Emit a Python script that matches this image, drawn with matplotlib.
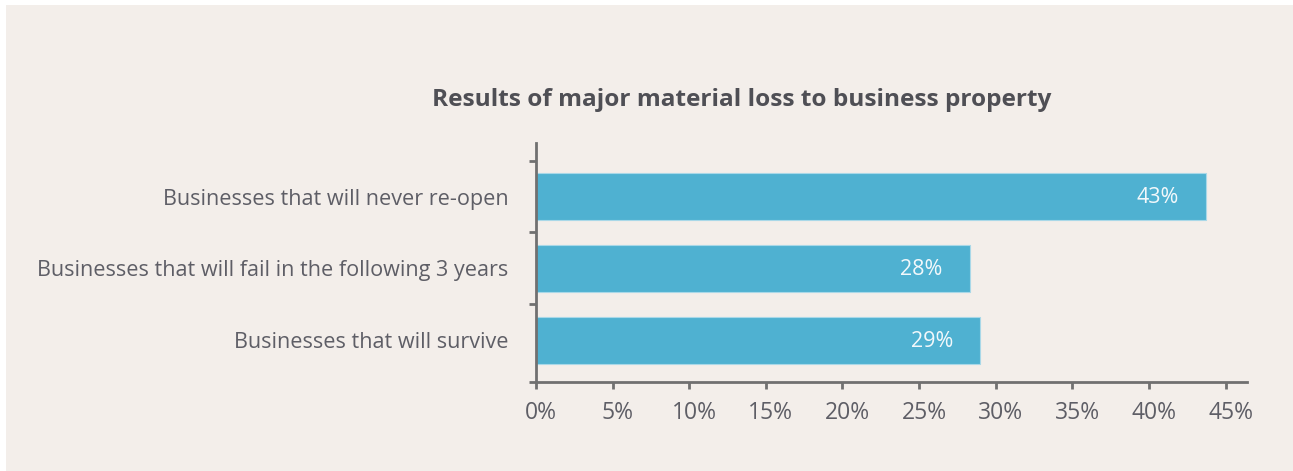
import matplotlib
matplotlib.use("Agg")
import matplotlib.pyplot as plt
from matplotlib.patches import Rectangle
from matplotlib.transforms import ScaledTranslation

categories = ["Businesses that will never re-open",
              "Businesses that will fail in the following 3 years",
              "Businesses that will survive"]
values = [43.7, 28.3, 29.0]
value_labels = ["43%", "28%", "29%"]
xticks = [0, 5, 10, 15, 20, 25, 30, 35, 40, 45]
xtick_labels = ["0%", "5%", "10%", "15%", "20%", "25%", "30%", "35%", "40%", "45%"]
title = "Results of major material loss to business property"

W, H = 1293, 471
BG = "#F3EEEA"
BAR = "#4FB1D1"
TXT = "#5E5E66"
AX = "#707070"

plt.rcParams['font.family'] = ['Open Sans', 'DejaVu Sans']

fig = plt.figure(figsize=(W / 100, H / 100), dpi=100, facecolor="white")
fig.patches.append(Rectangle((6 / W, 0), 1 - 6 / W, (H - 5) / H, transform=fig.transFigure,
                             facecolor=BG, edgecolor="none", zorder=-10))

ax = fig.add_axes([536 / W, (H - 382) / H, (1247 - 536) / W, (382 - 143) / H])
ax.set_facecolor("none")
ax.set_zorder(2)

ypos = list(range(len(categories)))
ax.barh(ypos, values, height=0.655, color=BAR, edgecolor="#A9D8E8", linewidth=0.8, zorder=2)

for y, v, lab in zip(ypos, values, value_labels):
    ax.text(v - 1.75, y + 0.02, lab, ha="right", va="center", color="#F2F8FB", fontsize=15.5, zorder=3)

ax.set_xlim(0, 46.4)
ax.set_ylim(2.585, -0.746)

ax.set_xticks(xticks)
ax.set_xticklabels(xtick_labels)
ax.set_yticks(ypos)
ax.set_yticklabels(categories)
ax.set_yticks([-0.5, 0.5, 1.5, 2.585], minor=True)

ax.tick_params(axis="y", which="major", length=0, pad=20, labelsize=15.6, labelcolor=TXT)
ax.tick_params(axis="y", which="minor", length=5, width=2, color=AX, direction="out")
ax.tick_params(axis="x", which="major", length=5, width=2, color=AX, direction="out",
               pad=9, labelsize=16.5, labelcolor=TXT)

shift = ScaledTranslation(5 / 100, 0, fig.dpi_scale_trans)
for lbl in ax.get_xticklabels():
    lbl.set_transform(lbl.get_transform() + shift)

for s in ["top", "right"]:
    ax.spines[s].set_visible(False)
for s in ["left", "bottom"]:
    ax.spines[s].set_color(AX)
    ax.spines[s].set_linewidth(2)

fig.text(742 / W, 1 - 100 / H, title, ha="center", va="center", fontsize=17.6,
         fontweight="bold", color="#4F4F55")

fig.savefig("out.png", dpi=100, facecolor=fig.get_facecolor())
